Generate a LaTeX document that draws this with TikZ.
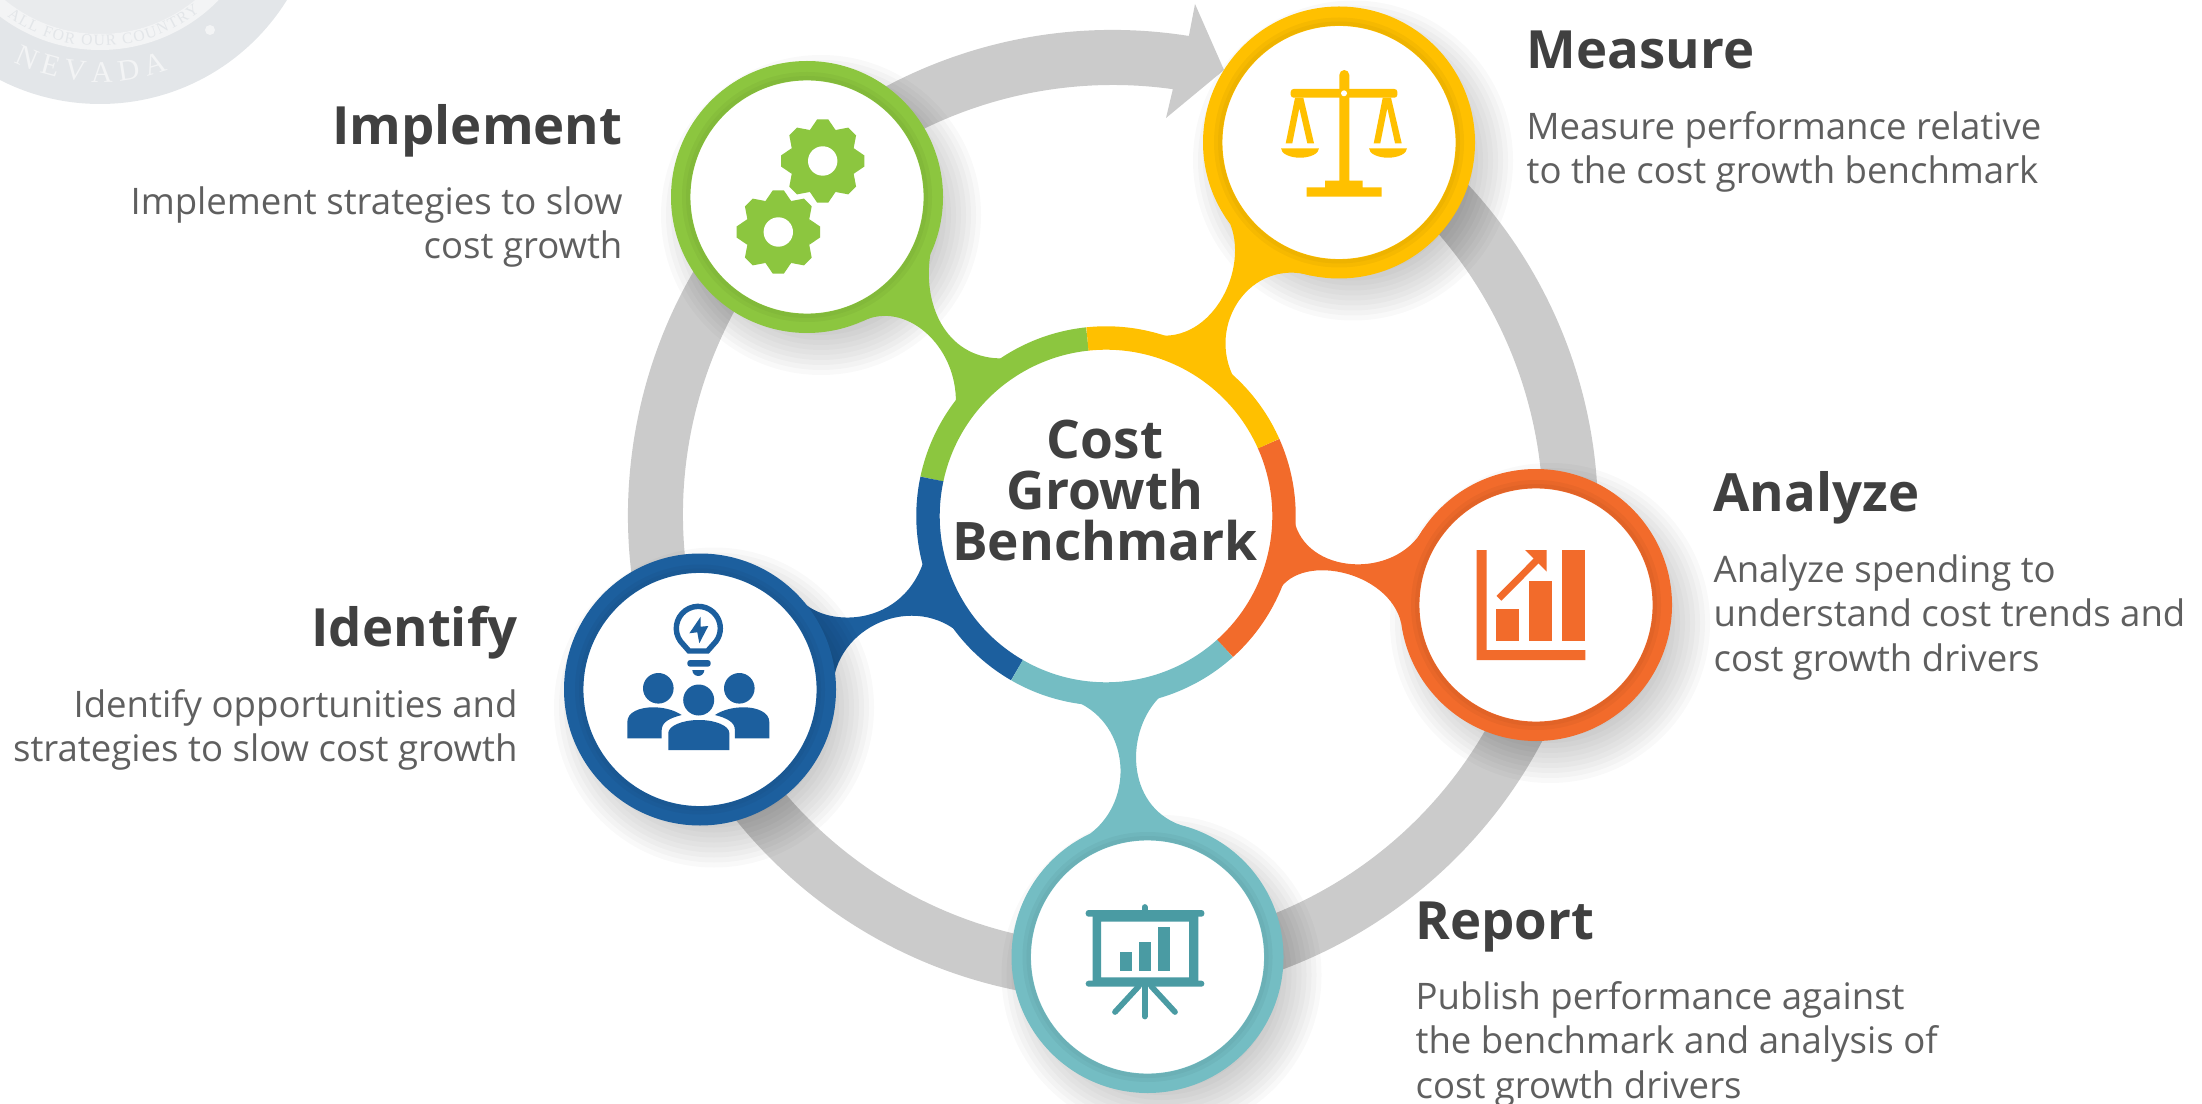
\documentclass[tikz,border=0pt]{standalone}
\usepackage{fontspec}
\setmainfont{Open Sans}
\newfontfamily\sealfont{Liberation Serif}
\usepackage{xcolor}
\usetikzlibrary{backgrounds,decorations.text}

\definecolor{loopC}{HTML}{CBCBCB}
\definecolor{implementC}{HTML}{8CC63F}
\definecolor{measureC}{HTML}{FFC000}
\definecolor{analyzeC}{HTML}{F26B2B}
\definecolor{reportC}{HTML}{74BDC3}
\definecolor{identifyC}{HTML}{1C5F9E}
\definecolor{chartC}{HTML}{4A9BA3}
\definecolor{headC}{HTML}{404040}
\definecolor{bodyC}{HTML}{5F5F5F}
\definecolor{sealC}{HTML}{E3E6E9}
\definecolor{sealinC}{HTML}{E9EBED}
\definecolor{sealbandC}{HTML}{F3F4F5}

\tikzset{
  satnode/.style={circle,draw=#1,fill=white,line width=6.8pt,minimum size=88.4pt,inner sep=0pt},
  hubnode/.style={circle,fill=white,line width=7.7pt,minimum size=123.9pt,inner sep=0pt},
  hubtext/.style={inner sep=0pt,align=center,text=headC,font=\bfseries\fontsize{18.6}{17.7}\selectfont},
  headlabel/.style={inner sep=0pt,text=headC,font=\bfseries\fontsize{18.45}{22}\selectfont},
  bodylabel/.style={inner sep=0pt,text=bodyC,font=\fontsize{12.8}{15.45}\selectfont},
  gearicon/.pic={
    \fill (0,0) circle (33.5);
    \foreach \a in {0,45,...,315}
      \fill[rotate=\a] (-12.8,31) -- (-5.5,41.7) -- (5.5,41.7) -- (12.8,31) -- cycle;
    \fill[white] (0,0) circle (14.7);
  },
}

\begin{document}
\begin{tikzpicture}[x=0.35pt,y=0.35pt]
\useasboundingbox (0,0) rectangle (2202,-1104);

%%%SEAL
\coordinate (seal) at (100,116);
\begin{scope}
\clip (0,0) rectangle (2202,-1104);
\fill[sealC] (seal) circle (220);
\fill[sealinC] (seal) circle (150);
\draw[sealbandC,line width=5.6pt] (seal) circle (158);
\fill[sealbandC] (210,-30) circle (5);
\path[decorate,decoration={text along path,text align={fit to path},
  text={|\sealfont\fontsize{10.5}{10.5}\selectfont\color{sealbandC}|NEVADA}}]
  (seal) ++(244:198) arc (244:290:198);
\path[decorate,decoration={text along path,text align={fit to path},
  text={|\sealfont\fontsize{5.5}{5.5}\selectfont\color{sealC}|ALL FOR OUR COUNTRY}}]
  (seal) ++(235:162) arc (235:308:162);
\end{scope}

%%%CIRCLES
\node[hubnode] (hub) at (1106,-516) {};
\foreach \name/\x/\y in {implement/807/197,measure/1339/142.5,analyze/1536/605,report/1147.5/957,identify/700/689.5}
  \node[satnode=\name C] (\name) at (\x,-\y) {};

%%%HUB SEGMENTS
\foreach \col/\a/\b in {implementC/96/168,identifyC/168/240,reportC/240/312,analyzeC/312/384,measureC/24/96}
  \draw[\col,line width=8.2pt] (hub.center) ++(\a:178) arc (\a:\b:178);
\node[hubtext] (hubtext) at (1105,-490.5) {Cost\\Growth\\Benchmark};

%%%RING EDGE
\foreach \name in {implement,measure,analyze,report,identify} {
  \draw[black,opacity=.035,line width=2.8pt] (\name.center) circle (121);
  \draw[black,opacity=.03,line width=1.4pt] (\name.center) circle (119);
}

\begin{pgfonlayer}{background}
%%%LOOP
\begin{scope}[shift={(1113,-515)}]
\fill[loopC] (81:485) arc (81:420:485) -- (60:430) arc (420:82:430)
  -- (53,397) -- (111,445) -- (82,511) -- cycle;
\end{scope}
%%%SHADOWS
\foreach \name in {implement,measure,analyze,report}
  \foreach \k in {0,...,9}
    \fill[black,opacity=.022] ([shift={(14,-18)}]\name.center) circle ({115+5*\k});
%%%NECKS
\fill[implementC] (implement.-25) .. controls (922,-310) and (950,-360) .. (hub.123)
  -- (hub.143.6) .. controls (957,-345) and (905,-300) .. (implement.-66) -- cycle;
\fill[measureC] (measure.217) .. controls (1250,-275) and (1205,-355) .. (hub.79)
  -- (hub.47) .. controls (1206,-325) and (1250,-258) .. (measure.258) -- cycle;
\fill[analyzeC] (hub.-1) .. controls (1305,-575) and (1395,-580) .. (analyze.146)
  -- (analyze.188.5) .. controls (1390,-570) and (1295,-550) .. (hub.-25) -- cycle;
\fill[reportC] (hub.261) .. controls (1130,-725) and (1135,-800) .. (report.115)
  -- (report.76) .. controls (1125,-805) and (1125,-730) .. (hub.-73) -- cycle;
\fill[identifyC] (identify.45) .. controls (815,-628) and (900,-632) .. (hub.194)
  -- (hub.226) .. controls (935,-590) and (850,-615) .. (identify.7.5) -- cycle;
\foreach \k in {0,...,9}
  \fill[black,opacity=.022] ([shift={(14,-18)}]identify.center) circle ({115+5*\k});
\end{pgfonlayer}

%%%ICONS
\pic[color=implementC] at (822.7,-161) {gearicon};
\pic[color=implementC] at (778.3,-232) {gearicon};

\fill[measureC] (1339.3,-75) arc (180:0:5) -- (1349.3,-180.7) -- (1362.7,-180.7) -- (1362.7,-187.3) -- (1381.7,-187.3)
  -- (1381.7,-196.7) -- (1306.7,-196.7) -- (1306.7,-187.3) -- (1325,-187.3) -- (1325,-180.7) -- (1339.3,-180.7) -- cycle;
\fill[measureC,rounded corners=1pt] (1290.7,-89) rectangle (1397.3,-97.7);
\fill[white] (1344,-93.3) circle (3);
\fill[measureC] (1295,-97.7) -- (1303.3,-97.7) -- (1314,-143.3) -- (1307.3,-143.3) -- (1299.3,-108.3) -- (1292.3,-143.3) -- (1285.7,-143.3) -- cycle;
\fill[measureC] (1382.7,-97.7) -- (1391,-97.7) -- (1401.7,-143.3) -- (1395,-143.3) -- (1387.3,-108.3) -- (1380.3,-143.3) -- (1373.7,-143.3) -- cycle;
\foreach \cx in {1300,1388}
  \fill[measureC] (\cx-19,-148.3) -- (\cx+19,-148.3) arc (0:-180:19 and 9.4) -- cycle;

\fill[analyzeC] (1476.7,-550) -- (1486.7,-550) -- (1486.7,-650) -- (1585.3,-650) -- (1585.3,-660) -- (1476.7,-660) -- cycle;
\fill[analyzeC] (1495.7,-609.3) rectangle (1519.3,-640.7);
\fill[analyzeC] (1529,-581) rectangle (1552.3,-640.7);
\fill[analyzeC] (1561.7,-550) rectangle (1585.3,-640.7);
\draw[analyzeC,line width=2.4pt] (1499,-598.3) -- (1537,-560);
\fill[analyzeC] (1525,-550) -- (1546.7,-550) -- (1546.7,-571.7) -- cycle;

\fill[chartC,rounded corners=1pt] (1085.7,-910) rectangle (1204.3,-916.7);
\fill[chartC,rounded corners=1pt] (1085.7,-980.7) rectangle (1204.3,-986.7);
\fill[chartC,even odd rule] (1092.7,-914) rectangle (1198.3,-983) (1101,-921.7) rectangle (1189,-977.3);
\draw[chartC,line width=2pt,line cap=round] (1144.7,-907) -- (1144.7,-912);
\fill[chartC] (1120,-952.3) rectangle (1132.3,-971);
\fill[chartC] (1139,-941.7) rectangle (1151,-971);
\fill[chartC] (1157.7,-927.3) rectangle (1170,-971);
\draw[chartC,line width=2pt,line cap=round] (1144.7,-986) -- (1144.7,-1016.5);
\draw[chartC,line width=2pt,line cap=round] (1139,-986) -- (1115,-1012);
\draw[chartC,line width=2pt,line cap=round] (1151,-986) -- (1175,-1012);

\draw[identifyC,line width=1.9pt] (680.5,-641.3) arc (216:-36:22) -- (707.5,-651) -- (689,-651) -- cycle;
\fill[identifyC] (700.7,-616.7) -- (689.3,-633.3) -- (697.3,-632.3) -- (699.3,-643.3) -- (708.3,-626) -- (700.7,-626.7) -- cycle;
\fill[identifyC,rounded corners=1pt] (687.3,-660) rectangle (710.7,-666.7);
\fill[identifyC] (692.3,-670) -- (704.3,-670) arc (0:-180:6) -- cycle;
\foreach \cx in {658.3,739.3} \fill[identifyC] (\cx,-688.3) circle (15.3);
\fill[identifyC] (698.7,-700) circle (15.5);
\fill[identifyC] (627.3,-738.3) -- (627.3,-722) .. controls (627.3,-712) and (640,-707.3) .. (653,-707.3)
  .. controls (664,-707.3) and (674,-710) .. (681.7,-715) .. controls (670,-718) and (661.7,-722) .. (661.7,-730) -- (661.7,-738.3) -- cycle;
\fill[identifyC] (769.3,-738.3) -- (769.3,-722) .. controls (769.3,-712) and (756.6,-707.3) .. (743.6,-707.3)
  .. controls (732.6,-707.3) and (722.6,-710) .. (714.9,-715) .. controls (726.6,-718) and (734.9,-722) .. (734.9,-730) -- (734.9,-738.3) -- cycle;
\fill[identifyC] (668.3,-750) -- (668.3,-733) .. controls (668.3,-726) and (682,-720) .. (699,-720)
  .. controls (716,-720) and (729.3,-726) .. (729.3,-733) -- (729.3,-750) -- cycle;

%%%LABELS
\node[headlabel,anchor=base east] (implementhead) at (623,-145) {Implement};
\node[bodylabel,anchor=base east,align=right] (implementtext) at (623,-259) {Implement strategies to slow\\cost growth};
\node[headlabel,anchor=base west] (measurehead) at (1526,-69) {Measure};
\node[bodylabel,anchor=base west,align=left] (measuretext) at (1526,-184) {Measure performance relative\\to the cost growth benchmark};
\node[headlabel,anchor=base west] (analyzehead) at (1713,-511) {Analyze};
\node[bodylabel,anchor=base west,align=left] (analyzetext) at (1713,-671) {Analyze spending to\\understand cost trends and\\cost growth drivers};
\node[headlabel,anchor=base east] (identifyhead) at (518,-646) {Identify};
\node[bodylabel,anchor=base east,align=right] (identifytext) at (518,-761.5) {Identify opportunities and\\strategies to slow cost growth};
\node[headlabel,anchor=base west] (reporthead) at (1415,-939) {Report};
\node[bodylabel,anchor=base west,align=left] (reporttext) at (1415,-1098) {Publish performance against\\the benchmark and analysis of\\cost growth drivers};
\end{tikzpicture}
\end{document}
